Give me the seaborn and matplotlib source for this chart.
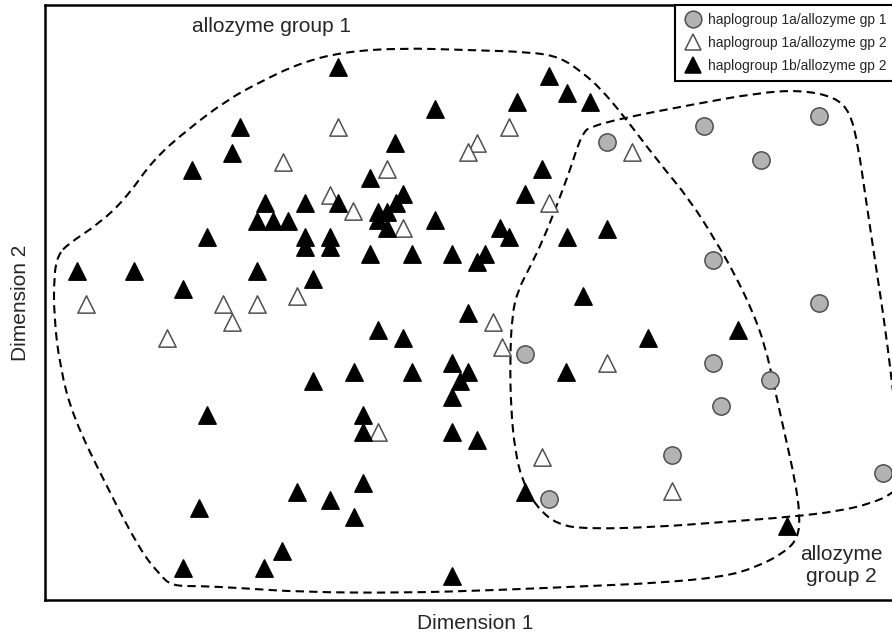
import pandas as pd
import seaborn as sns
import matplotlib.pyplot as plt
from matplotlib.path import Path
from matplotlib.patches import PathPatch
from matplotlib.lines import Line2D

# ordination scores (arbitrary units, no ticks shown)
circ_d1 = [607, 704, 819, 761, 713, 819, 525, 713, 770, 721, 672, 883, 549]
circ_d2 = [458, 474, 484, 440, 340, 297, 246, 237, 220, 194, 145, 127, 101]

open_d1 = [338, 283, 387, 330, 353, 403, 509, 477, 468, 549, 632, 86, 223, 257,
           297, 232, 167, 493, 502, 378, 542, 607, 672]
open_d2 = [473, 438, 431, 405, 389, 372, 473, 457, 448, 397, 448, 296, 296, 296,
           304, 278, 262, 278, 253, 168, 143, 237, 109]

fill_d1 = [338, 549, 567, 590, 517, 435, 240, 232, 395, 192, 370, 542, 525, 265,
           305, 338, 403, 396, 378, 387, 378, 387, 435, 500, 509, 567, 607, 257,
           273, 288, 207, 305, 305, 330, 330, 370, 412, 452, 485, 477, 77, 134,
           257, 313, 183, 583, 468, 378, 403, 648, 738, 354, 313, 412, 452, 468,
           460, 452, 566, 207, 363, 363, 452, 477, 363, 297, 330, 354, 199, 525,
           282, 264, 183, 452, 787]
fill_d2 = [533, 524, 507, 498, 498, 491, 473, 447, 457, 430, 422, 431, 406, 397,
           397, 397, 406, 397, 388, 388, 380, 372, 380, 372, 363, 363, 371, 379,
           379, 379, 363, 363, 353, 363, 353, 346, 346, 346, 346, 338, 329, 329,
           329, 321, 311, 304, 287, 270, 262, 262, 270, 228, 219, 228, 237, 228,
           219, 203, 228, 185, 185, 168, 168, 160, 117, 108, 100, 83, 92, 108,
           49, 32, 32, 24, 74]

# hand-drawn outlines of the two allozyme groups (control points)
grp1_d1 = [58, 68, 100, 127, 153, 187, 227, 260, 300, 343, 400, 467, 530, 560,
           583, 600, 623, 657, 690, 717, 735, 752, 765, 775, 785, 795, 800, 798,
           785, 757, 723, 657, 590, 500, 400, 300, 240, 200, 172, 160, 140,
           107, 73, 60, 54, 54]
grp1_d2 = [345, 356, 377, 403, 440, 470, 500, 518, 537, 548, 552, 550, 548, 543,
           527, 512, 485, 440, 400, 357, 325, 290, 255, 210, 165, 120, 85, 62,
           48, 33, 23, 17, 14, 10, 7, 8, 12, 14, 14, 25, 50,
           113, 183, 233, 283, 325]

grp2_d1 = [590, 623, 690, 757, 800, 835, 850, 858, 866, 876, 886, 894, 900, 902,
           892, 872, 840, 790, 723, 657, 590, 557, 535, 522, 515, 511, 510, 512,
           518, 530, 543, 557, 570, 578, 584]
grp2_d2 = [473, 482, 495, 507, 510, 503, 488, 455, 400, 333, 267, 200, 150, 118,
           106, 97, 89, 83, 78, 73, 71, 75, 95, 120, 150, 190, 240, 285,
           310, 333, 360, 395, 430, 455, 468]

labels = ['haplogroup 1a/allozyme gp 1', 'haplogroup 1a/allozyme gp 2',
          'haplogroup 1b/allozyme gp 2']

df = pd.concat([
    pd.DataFrame({'d1': circ_d1, 'd2': circ_d2, 'group': labels[0]}),
    pd.DataFrame({'d1': open_d1, 'd2': open_d2, 'group': labels[1]}),
    pd.DataFrame({'d1': fill_d1, 'd2': fill_d2, 'group': labels[2]}),
], ignore_index=True)


def smooth_outline(xs, ys):
    # closed quadratic-bezier path through the midpoints of the control points
    pts = list(zip(xs, ys))
    n = len(pts)
    mid = lambda a, b: ((a[0] + b[0]) / 2, (a[1] + b[1]) / 2)
    verts = [mid(pts[0], pts[1])]
    codes = [Path.MOVETO]
    for i in range(1, n + 1):
        verts += [pts[i % n], mid(pts[i % n], pts[(i + 1) % n])]
        codes += [Path.CURVE3, Path.CURVE3]
    return Path(verts, codes)


sns.set_theme(style='white')
plt.rcParams['font.family'] = ['Liberation Sans', 'DejaVu Sans']

fig = plt.figure(figsize=(8.92, 6.37), dpi=100)
ax = fig.add_axes([45 / 892, 37 / 637, 860 / 892, 595 / 637])

styles = {
    labels[0]: dict(marker='o', color='#b3b3b3', edgecolor='#505050'),
    labels[1]: dict(marker='^', color='white', edgecolor='#505050'),
    labels[2]: dict(marker='^', color='black', edgecolor='black'),
}
for lab in labels:
    sub = df[df['group'] == lab]
    sns.scatterplot(data=sub, x='d1', y='d2', ax=ax, s=155, linewidth=1.1,
                    zorder=3, legend=False, **styles[lab])

for xs, ys in [(grp1_d1, grp1_d2), (grp2_d1, grp2_d2)]:
    ax.add_patch(PathPatch(smooth_outline(xs, ys), fill=False, edgecolor='black',
                           lw=1.5, ls=(0, (4, 2.5)), zorder=2))

ax.set_xlim(45, 905)
ax.set_ylim(0, 595)
ax.set_xticks([])
ax.set_yticks([])
ax.set_xlabel('Dimension 1', fontsize=15, labelpad=10)
ax.set_ylabel('Dimension 2', fontsize=15, labelpad=11)
for sp in ax.spines.values():
    sp.set_color('black')
    sp.set_linewidth(1.8)

ax.text(271, 573, 'allozyme group 1', fontsize=15, ha='center', va='center')
ax.text(841, 34, 'allozyme\ngroup 2', fontsize=15, ha='center', va='center',
        linespacing=1.2)

handles = [Line2D([], [], ls='none', marker=styles[lab]['marker'], markersize=12,
                  markerfacecolor=styles[lab]['color'],
                  markeredgecolor=styles[lab]['edgecolor'], markeredgewidth=1.1)
           for lab in labels]
leg = ax.legend(handles, labels, loc='upper left',
                bbox_to_anchor=(675 / 892, 1 - 5 / 637),
                bbox_transform=fig.transFigure, borderaxespad=0, fontsize=10,
                frameon=True, fancybox=False, framealpha=1, edgecolor='black',
                handlelength=1.4, handletextpad=0.4, labelspacing=0.62,
                borderpad=0.6)
leg.get_frame().set_linewidth(1.5)

fig.savefig('out.png', dpi=100)
